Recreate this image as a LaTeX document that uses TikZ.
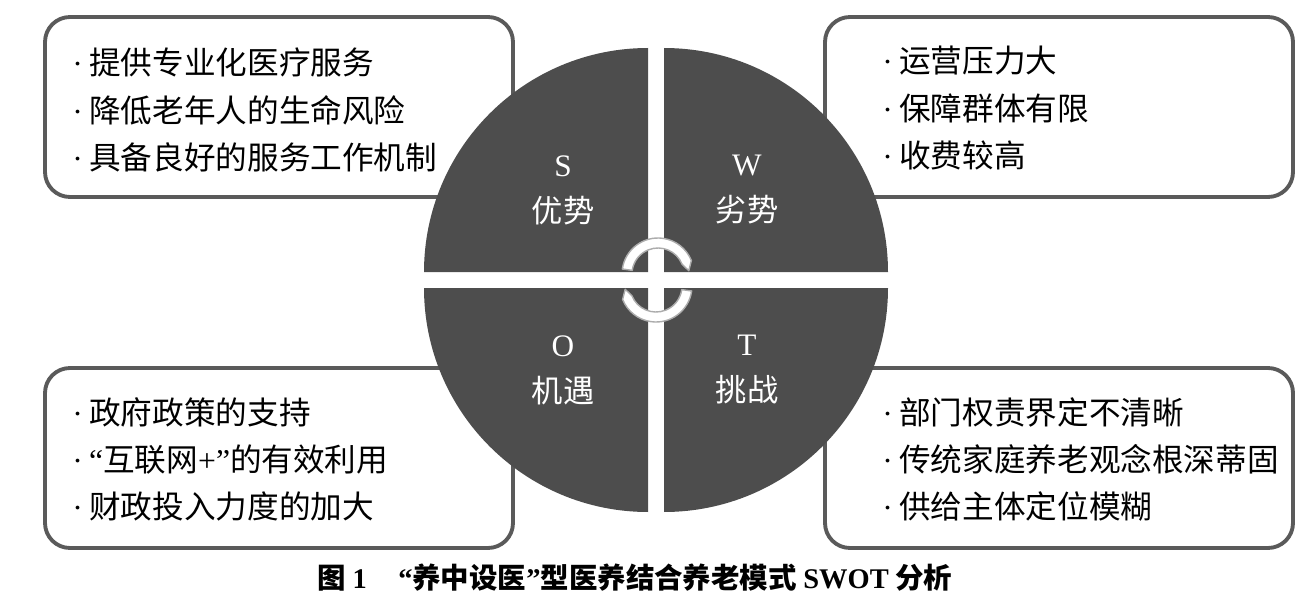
\documentclass[tikz,border=0pt]{standalone}
\usepackage{fontspec}
\setmainfont{Noto Sans CJK SC}
\newfontfamily\latin{Liberation Serif}
\usepackage{tikz}
\usetikzlibrary{positioning,calc}
\definecolor{quadgray}{HTML}{4D4D4D}
\definecolor{framegray}{HTML}{5A5A5A}
\newcommand{\pt}{{\latin ·}\hspace{0.2em}}

\begin{document}
\begin{tikzpicture}[
    node distance=0.58cm,
    panel/.style={draw=framegray, line width=2.2pt, rounded corners=0.5cm, fill=white, minimum width=9.36cm, minimum height=3.6cm},
    items/.style={inner sep=0pt, align=left, font=\fontsize{18pt}{26.8pt}\selectfont},
    quad/.style={fill=quadgray},
    quadlab/.style={text=white, align=center, font=\fontsize{17.8pt}{26.2pt}\selectfont},
    cyc/.style={fill=white, draw=gray!65, line width=0.8pt, line join=round},
  ]
  \useasboundingbox (0,0) rectangle (26,12.2);

  % frames
  \node[panel] (sbox) at (5.58,10.06) {};
  \node[panel] (wbox) at (21.18,10.06) {};
  \node[panel] (obox) at (5.58,3.04) {};
  \node[panel] (tbox) at (21.18,3.04) {};

  % circle of four quarters
  \coordinate (c) at (13.12,6.6);
  \fill[quad] ($(c)+(-0.16,0.16)$) -- ++(-4.48,0) arc[start angle=180, end angle=90, radius=4.48] -- cycle;
  \fill[quad] ($(c)+(0.16,0.16)$) -- ++(4.48,0) arc[start angle=0, end angle=90, radius=4.48] -- cycle;
  \fill[quad] ($(c)+(-0.16,-0.16)$) -- ++(-4.48,0) arc[start angle=180, end angle=270, radius=4.48] -- cycle;
  \fill[quad] ($(c)+(0.16,-0.16)$) -- ++(4.48,0) arc[start angle=0, end angle=-90, radius=4.48] -- cycle;

  % cycle arrows
  \coordinate (cu) at ($(c)+(0.04,0.12)$);
  \coordinate (cd) at ($(c)+(0,-0.12)$);
  \draw[cyc] ($(cu)+(172:0.72)$) arc[start angle=172, end angle=22, radius=0.72]
    -- ($(cu)+(6:0.62)$) -- ($(cu)+(22:0.52)$) arc[start angle=22, end angle=172, radius=0.52] -- cycle;
  \draw[cyc] ($(cd)+(-8:0.72)$) arc[start angle=-8, end angle=-158, radius=0.72]
    -- ($(cd)+(186:0.62)$) -- ($(cd)+(-158:0.52)$) arc[start angle=-158, end angle=-8, radius=0.52] -- cycle;

  % quarter labels
  \node[quadlab] (slab) at (11.26,8.4) {{\latin S}\\优势};
  \node[quadlab] (wlab) at (14.94,8.4) {{\latin W}\\劣势};
  \node[quadlab] (olab) at (11.26,4.8) {{\latin O}\\机遇};
  \node[quadlab] (tlab) at (14.94,4.8) {{\latin T}\\挑战};

  % lists
  \node[items, right=of sbox.west, yshift=-0.06cm] (slist) {\pt 提供专业化医疗服务\\\pt 降低老年人的生命风险\\\pt 具备良好的服务工作机制};
  \node[items, right=1.18cm of wbox.west, yshift=-0.02cm] (wlist) {\pt 运营压力大\\\pt 保障群体有限\\\pt 收费较高};
  \node[items, right=of obox.west, yshift=-0.03cm] (olist) {\pt 政府政策的支持\\\pt {\latin “}互联网{\latin +”}的有效利用\\\pt 财政投入力度的加大};
  \node[items, right=1.18cm of tbox.west, yshift=-0.03cm] (tlist) {\pt 部门权责界定不清晰\\\pt 传统家庭养老观念根深蒂固\\\pt 供给主体定位模糊};

  \node[font=\fontsize{16.2pt}{19pt}\selectfont\bfseries] (cap) at (12.7,0.64)
    {图 {\latin 1}\hspace{1.1em}{\latin “}养中设医{\latin ”}型医养结合养老模式 {\latin SWOT} 分析};
\end{tikzpicture}
\end{document}
